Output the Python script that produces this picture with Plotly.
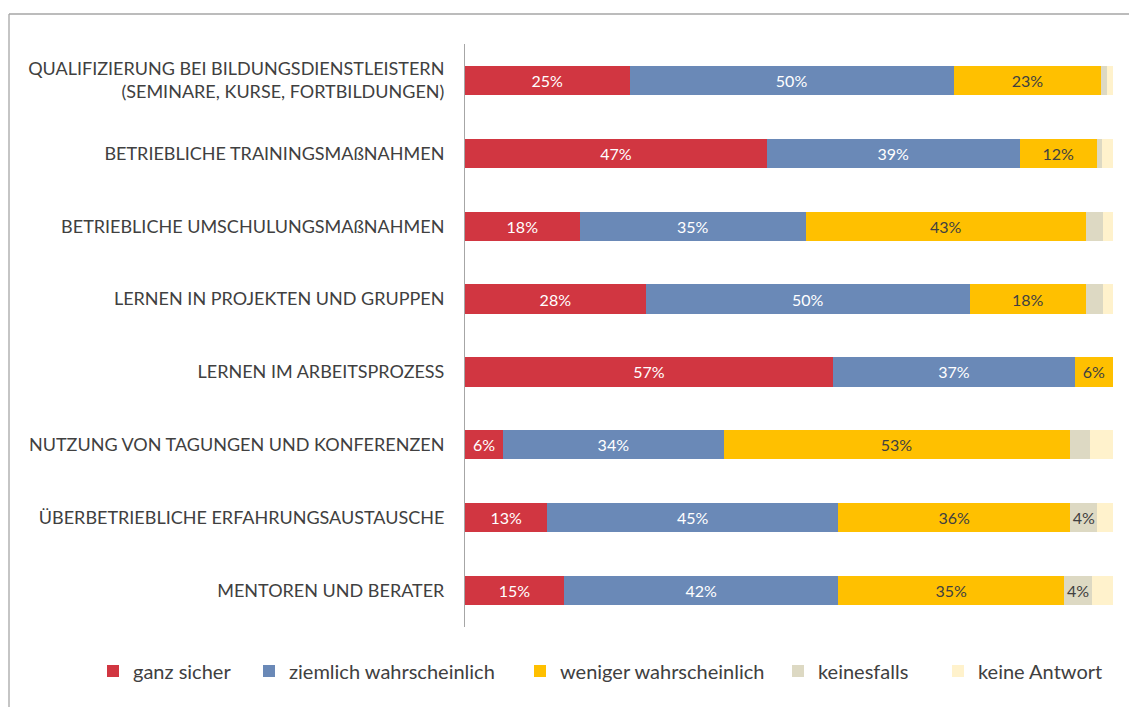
import plotly.graph_objects as go

categories = [
    "QUALIFIZIERUNG BEI BILDUNGSDIENSTLEISTERN<br>(SEMINARE, KURSE, FORTBILDUNGEN)",
    "BETRIEBLICHE TRAININGSMAßNAHMEN",
    "BETRIEBLICHE UMSCHULUNGSMAßNAHMEN",
    "LERNEN IN PROJEKTEN UND GRUPPEN",
    "LERNEN IM ARBEITSPROZESS",
    "NUTZUNG VON TAGUNGEN UND KONFERENZEN",
    "ÜBERBETRIEBLICHE ERFAHRUNGSAUSTAUSCHE",
    "MENTOREN UND BERATER",
]
series_names = ["ganz sicher", "ziemlich wahrscheinlich", "weniger wahrscheinlich",
                "keinesfalls", "keine Antwort"]
ganz_sicher = [25.4, 46.6, 17.7, 27.9, 56.8, 5.9, 12.7, 15.3]
ziemlich_wahrscheinlich = [50.0, 39.0, 34.9, 50.0, 37.3, 34.0, 44.9, 42.3]
weniger_wahrscheinlich = [22.8, 11.9, 43.2, 17.9, 5.9, 53.4, 35.8, 34.9]
keinesfalls = [0.9, 0.8, 2.6, 2.6, 0.0, 3.2, 4.2, 4.2]
keine_antwort = [0.9, 1.7, 1.6, 1.6, 0.0, 3.5, 2.4, 3.3]

series_values = [ganz_sicher, ziemlich_wahrscheinlich, weniger_wahrscheinlich,
                 keinesfalls, keine_antwort]
colors = ["#D13641", "#6A89B7", "#FFC000", "#DDD9C3", "#FFF2CC"]
text_colors = ["#FFFFFF", "#FFFFFF", "#404040", "#404040", "#404040"]

FONT = "Lato"
W, H = 1129, 707
ML, MR, MT, MB = 465, 16, 44, 80
PW = W - ML - MR
PH = H - MT - MB

# pixel x where each legend label's text starts
legend_text_px = [133, 289, 560, 818, 978]
legend_center_px = 671

fig = go.Figure()
for i, (name, vals) in enumerate(zip(series_names, series_values)):
    txt = [f"{round(v)}%" if v >= 3.7 else "" for v in vals]
    lg = "legend" if i == 0 else f"legend{i+1}"
    fig.add_trace(go.Bar(
        y=categories, x=vals, orientation="h", name=name,
        marker=dict(color=colors[i], line=dict(width=0)),
        text=txt, textposition="inside", insidetextanchor="middle",
        textangle=0, constraintext="none",
        textfont=dict(family=FONT, size=16, color=text_colors[i]),
        legend=lg, hoverinfo="x+y+name",
    ))

legends = {}
for i, px in enumerate(legend_text_px):
    key = "legend" if i == 0 else f"legend{i+1}"
    legends[key] = dict(
        x=(px - 40 - ML) / PW, xanchor="left",
        y=-(legend_center_px - (MT + PH)) / PH, yanchor="middle",
        orientation="h", font=dict(family=FONT, size=20, color="#404040"),
        bgcolor="rgba(0,0,0,0)", borderwidth=0,
    )

# frame lines (top and left)
fx0 = (9 - ML) / PW
fy_top = (MT + PH - 14) / PH
fy_bot = (MT + PH - H - 5) / PH
shapes = [
    dict(type="line", xref="paper", yref="paper", x0=fx0, x1=1.2, y0=fy_top, y1=fy_top,
         line=dict(color="#A6A6A6", width=1.3)),
    dict(type="line", xref="paper", yref="paper", x0=fx0, x1=fx0, y0=fy_top, y1=fy_bot,
         line=dict(color="#A6A6A6", width=1.3)),
]

fig.update_layout(
    width=W, height=H,
    margin=dict(l=ML, r=MR, t=MT, b=MB, autoexpand=False),
    barmode="stack", bargap=0.6,
    plot_bgcolor="white", paper_bgcolor="white",
    showlegend=True,
    shapes=shapes,
    font=dict(family=FONT, color="#404040"),
    xaxis=dict(range=[0, 100], showgrid=False, showticklabels=False, zeroline=False,
               showline=False, fixedrange=True),
    yaxis=dict(autorange="reversed", showgrid=False, zeroline=False,
               showline=True, linecolor="#A6A6A6", linewidth=1,
               ticks="", ticklabelstandoff=16,
               tickfont=dict(family=FONT, size=18, color="#404040")),
    **legends,
)

fig.write_html("out.html", config={"displayModeBar": False},
               post_script="document.body.style.margin='0px';document.body.style.overflow='hidden';")
